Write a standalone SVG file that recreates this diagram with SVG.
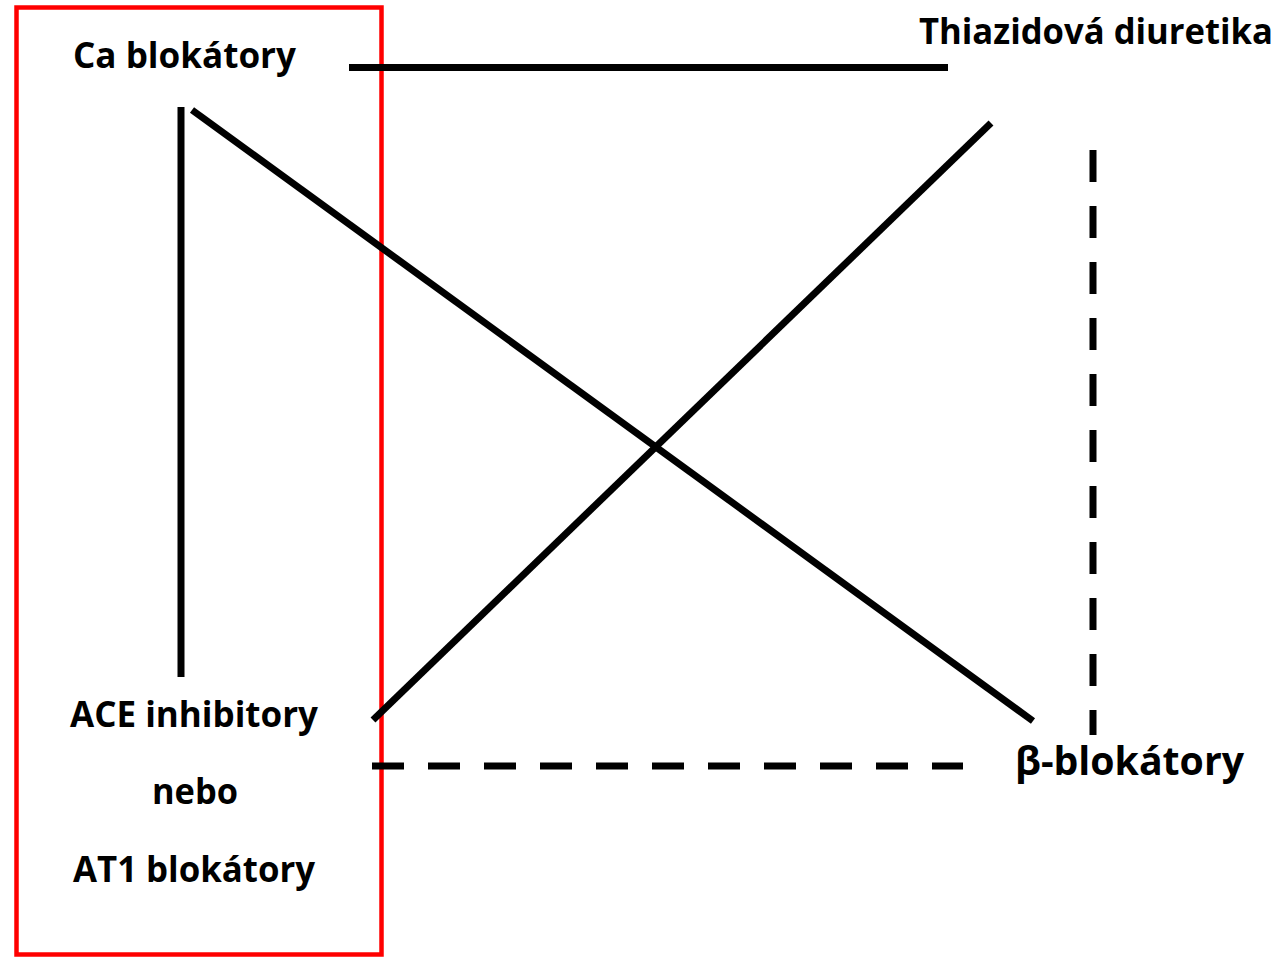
<svg xmlns="http://www.w3.org/2000/svg" width="1279" height="957" viewBox="0 0 1279 957">
<style>
.lbl{font-family:"Open Sans","Liberation Sans",sans-serif;font-weight:bold;font-size:35px;fill:#000}
.ln{stroke:#000;stroke-width:7;fill:none}
.dash{stroke-dasharray:32 24}
</style>
<rect width="1279" height="957" fill="#fff"/>
<rect id="box" x="16.5" y="7.5" width="365" height="947" fill="none" stroke="#ff0000" stroke-width="4.5"/>
<g id="connectors">
<line class="ln" x1="349" y1="67.5" x2="948" y2="67.5"/>
<line class="ln" x1="181" y1="107" x2="181" y2="677"/>
<line class="ln" x1="192" y1="110" x2="1033" y2="721"/>
<line class="ln" x1="373" y1="720" x2="991" y2="123"/>
<line class="ln dash" x1="1093" y1="150" x2="1093" y2="735"/>
<line class="ln dash" x1="372" y1="766" x2="963" y2="766"/>
</g>
<g id="ca"><text class="lbl" x="73" y="68" textLength="223" lengthAdjust="spacingAndGlyphs">Ca blokátory</text></g>
<g id="thiazid"><text class="lbl" x="919" y="44" textLength="354" lengthAdjust="spacingAndGlyphs">Thiazidová diuretika</text></g>
<g id="ace">
<text class="lbl" x="70" y="727" textLength="248" lengthAdjust="spacingAndGlyphs">ACE inhibitory</text>
<text class="lbl" x="152" y="804" textLength="86" lengthAdjust="spacingAndGlyphs">nebo</text>
<text class="lbl" x="73" y="882" textLength="242" lengthAdjust="spacingAndGlyphs">AT1 blokátory</text>
</g>
<g id="beta"><text class="lbl" x="1015" y="775" textLength="229" lengthAdjust="spacingAndGlyphs" style="font-size:40px">β-blokátory</text></g>
</svg>
